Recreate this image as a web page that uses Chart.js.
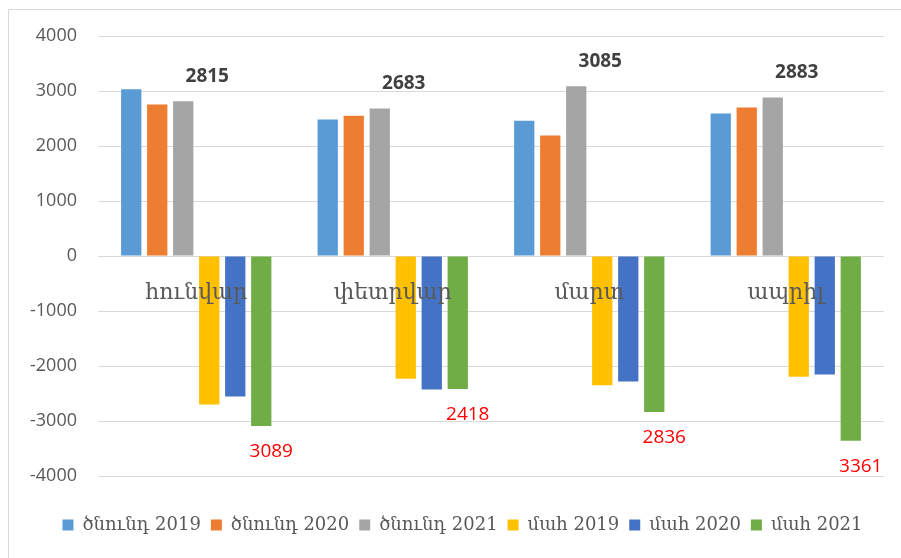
<!DOCTYPE html>
<html>
<head>
<meta charset="utf-8">
<script src="https://cdn.jsdelivr.net/npm/chart.js@4/dist/chart.umd.min.js"></script>
<style>
    html, body { margin: 0; padding: 0; background: #fff; }
    #wrap { position: relative; width: 901px; height: 558px; }
</style>
</head>
<body>
<div id="wrap"><canvas id="births"></canvas></div>
<script>
// months on the x axis
const months = ['հունվար', 'փետրվար', 'մարտ', 'ապրիլ'];

// births per month
const births2019 = [3030, 2480, 2460, 2590];
const births2020 = [2755, 2550, 2190, 2700];
const births2021 = [2815, 2683, 3085, 2883];

// deaths per month, drawn below zero
const deaths2019 = [-2700, -2230, -2350, -2195];
const deaths2020 = [-2555, -2425, -2280, -2155];
const deaths2021 = [-3089, -2418, -2836, -3361];

// y axis tick values
const yTicks = [4000, 3000, 2000, 1000, 0, -1000, -2000, -3000, -4000];

// series names for the legend
const seriesNames = ['ծնունդ 2019', 'ծնունդ 2020', 'ծնունդ 2021', 'մահ 2019', 'մահ 2020', 'մահ 2021'];

const textColor = '#595959';
const gridColor = '#d9d9d9';

// thin frame round the chart, like the excel chart border
const framePlugin = {
    id: 'frame',
    afterLayout(chart) {
        // excel centres the legend under the plot area, not the whole canvas
        chart.legend.left += 41;
    },
    beforeDraw(chart) {
        const ctx = chart.ctx;
        ctx.save();
        ctx.fillStyle = '#fff';
        ctx.fillRect(0, 0, chart.width, chart.height);
        ctx.strokeStyle = gridColor;
        ctx.lineWidth = 1;
        ctx.strokeRect(8.5, 9.5, 2000, 2000);
        ctx.restore();
    }
};

// value labels only on the 2021 series
const valueLabels = {
    id: 'valueLabels',
    afterDatasetsDraw(chart) {
        const ctx = chart.ctx;
        ctx.save();
        ctx.textAlign = 'center';
        ctx.textBaseline = 'middle';

        //births 2021: bold, above and a little right
        ctx.font = 'bold 19px "Open Sans"';
        ctx.fillStyle = '#404040';
        chart.getDatasetMeta(2).data.forEach(function(bar, i) {
            ctx.fillText(String(births2021[i]), bar.x + 24, bar.y - 25);
        });

        //deaths 2021: red, under the bar
        ctx.font = '19px "Open Sans"';
        ctx.fillStyle = '#ff0000';
        chart.getDatasetMeta(5).data.forEach(function(bar, i) {
            ctx.fillText(String(Math.abs(deaths2021[i])), bar.x + 10, bar.y + 26);
        });
        ctx.restore();
    }
};

const colors = ['#5b9bd5', '#ed7d31', '#a5a5a5', '#ffc000', '#4472c4', '#70ad47'];
const series = [births2019, births2020, births2021, deaths2019, deaths2020, deaths2021];

const datasets = [];
for (let i = 0; i < series.length; i++) {
    datasets.push({
        label: seriesNames[i],
        data: series[i],
        backgroundColor: colors[i],
        borderWidth: 0,
        categoryPercentage: 0.794,
        barPercentage: 0.78
    });
}

window.chartReference = new Chart(document.getElementById('births'), {
    type: 'bar',
    data: {
        labels: months,
        datasets: datasets
    },
    plugins: [framePlugin, valueLabels],
    options: {
        responsive: true,
        maintainAspectRatio: false,
        animation: false,
        devicePixelRatio: 1,
        layout: {
            padding: { top: 36, left: 0, right: 17, bottom: 14 }
        },
        plugins: {
            tooltip: { enabled: false },
            legend: {
                position: 'bottom',
                title: {
                    display: true,
                    text: '',
                    font: { size: 10 },
                    padding: { top: 18, bottom: 0 }
                },
                labels: {
                    boxWidth: 11,
                    boxHeight: 11,
                    padding: 10,
                    color: textColor,
                    font: { family: '"DejaVu Serif"', size: 18 }
                }
            }
        },
        scales: {
            x: {
                position: { y: 0 },
                grid: { display: false, drawTicks: false },
                border: { display: false },
                ticks: {
                    z: 1,
                    padding: 24,
                    color: textColor,
                    font: { family: '"DejaVu Serif"', size: 22 }
                }
            },
            y: {
                min: -4000,
                max: 4000,
                afterFit(scale) {
                    scale.width = 98;
                },
                afterBuildTicks(scale) {
                    scale.ticks = yTicks.map(v => ({ value: v }));
                },
                grid: { color: gridColor, drawTicks: false },
                border: { display: false },
                ticks: {
                    padding: 21,
                    color: textColor,
                    font: { family: '"Open Sans"', size: 18 },
                    callback: function(value) {
                        return String(value);
                    }
                }
            }
        }
    }
});
</script>
</body>
</html>
